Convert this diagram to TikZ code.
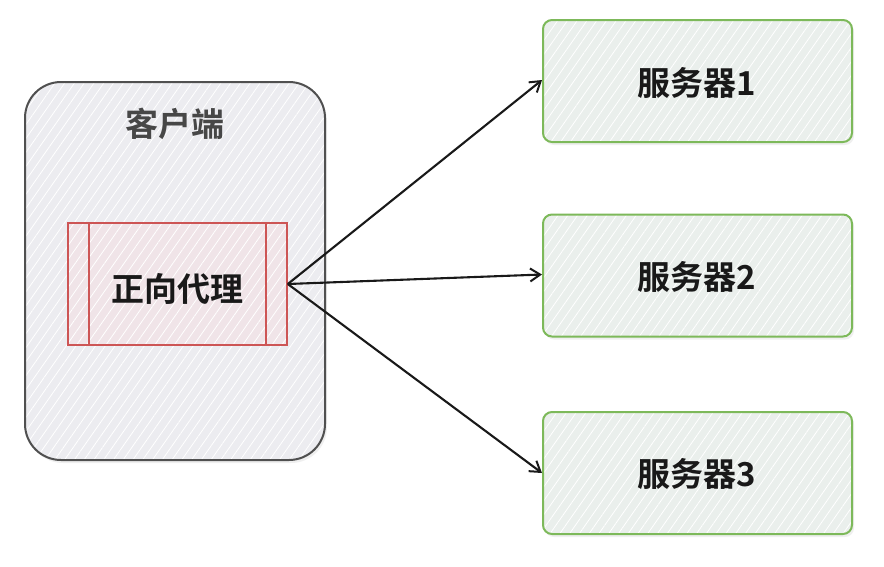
\documentclass[tikz,border=0pt]{standalone}
\usepackage{fontspec}
\newfontfamily\cjk{Noto Sans CJK SC}[BoldFont={Noto Sans CJK SC Bold}]
\usetikzlibrary{arrows.meta,patterns.meta,shadows}
\definecolor{clientfill}{RGB}{236,236,240}
\definecolor{clientline}{RGB}{80,80,80}
\definecolor{proxyline}{RGB}{205,85,85}
\definecolor{proxyfill}{RGB}{240,228,232}
\definecolor{srvline}{RGB}{125,185,90}
\definecolor{srvfill}{RGB}{234,239,236}
\tikzset{
  every node/.style={font=\cjk\bfseries},
  hatch/.style={pattern={Lines[angle=55,distance=8pt,line width=0.8pt]}, pattern color=white},
  shade2/.style={drop shadow={shadow xshift=2pt,shadow yshift=-3pt,opacity=0.12}},
  client/.style={shade2, draw=clientline, line width=2pt, preaction={fill=clientfill}, hatch, rounded corners=36pt,
     minimum width=300pt, minimum height=378pt, inner sep=0pt},
  proxy/.style={draw=proxyline, line width=1.6pt, preaction={fill=proxyfill}, hatch,
     minimum width=219pt, minimum height=122pt, inner sep=0pt},
  server/.style={shade2, draw=srvline, line width=2pt, preaction={fill=srvfill}, hatch, rounded corners=9pt,
     minimum width=309pt, minimum height=122pt, inner sep=0pt},
  label/.style={font=\cjk\bfseries\fontsize{33}{33}\selectfont, text=black!90},
  conn/.style={draw=black!90, line width=2.1pt, -{Straight Barb[length=10pt,width=13pt,line width=2pt]}},
}
\begin{document}
\begin{tikzpicture}[x=1pt,y=-1pt]
\useasboundingbox (0,0) rectangle (884,566);
\fill[white] (0,0) rectangle (884,566);
% client
\node[client] (client) at (175,271) {};
\node[label, text=black!72] (clientlabel) at (175,124) {客户端};
% proxy
\node[proxy] (proxy) at (177.5,284) {};
\draw[proxyline, line width=1.6pt] ([xshift=22pt]proxy.north west) -- ([xshift=22pt]proxy.south west);
\draw[proxyline, line width=1.6pt] ([xshift=-22pt]proxy.north east) -- ([xshift=-22pt]proxy.south east);
\node[label] (proxylabel) at (177,289) {正向代理};
% servers
\node[server] (s1) at (697.5,81) {};
\node[label] (s1label) at (697,83) {服务器1};
\node[server] (s2) at (697.5,275.5) {};
\node[label] (s2label) at (697,277) {服务器2};
\node[server] (s3) at (697.5,473) {};
\node[label] (s3label) at (697,474) {服务器3};
% connectors
\draw[conn] (proxy.east) -- ([yshift=1pt]s1.west);
\draw[conn] (proxy.east) -- ([yshift=1pt]s2.west);
\draw[conn] (proxy.east) -- (s3.west);
\end{tikzpicture}
\end{document}
